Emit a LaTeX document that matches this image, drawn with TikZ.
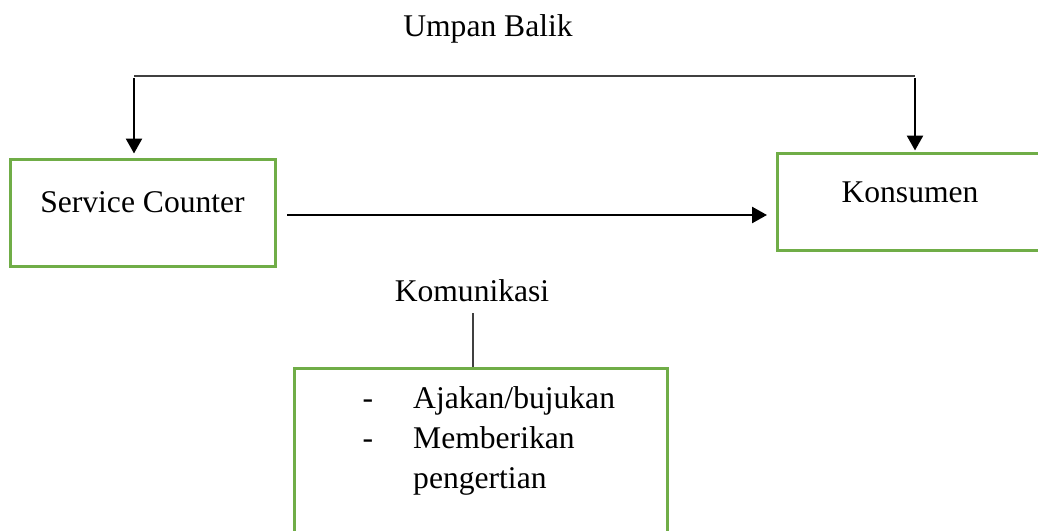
\documentclass[tikz,border=0pt]{standalone}
\usepackage{fontspec}
\setmainfont{Liberation Serif}
\usetikzlibrary{arrows.meta,calc}
\definecolor{boxgreen}{HTML}{70AD47}
\definecolor{fbgray}{HTML}{404040}
\begin{document}
\begin{tikzpicture}[x=1pt,y=-1pt,
  box/.style={draw=boxgreen,line width=3pt,rectangle,inner sep=0pt},
  txt/.style={font=\fontsize{31.6}{38}\selectfont,inner sep=0pt,anchor=base},
  fbline/.style={draw=fbgray,line width=1.5pt},
  arr/.style={draw=black,line width=2.6pt,-{Triangle[width=16pt,length=15pt]}}]
\useasboundingbox (0,0) rectangle (1038,530);
\clip (0,0) rectangle (1038,530);
\fill[white] (0,0) rectangle (1038,530);
% boxes
\node[box,minimum width=265pt,minimum height=107pt] (sc) at (142.5,212.5) {};
\node[box,minimum width=323pt,minimum height=97pt] (kon) at (938.5,201.5) {};
\node[box,minimum width=373pt,minimum height=232pt] (kom) at (480.5,484) {};
% texts
\node[txt] (tsc) at (142.5,212) {Service Counter};
\node[txt] (tkon) at (910,202) {Konsumen};
\node[txt] (tub) at (488,36) {Umpan Balik};
\node[txt] (tkom) at (472,301) {Komunikasi};
\node[txt] (d1) at (368,408) {-};
\node[txt] (d2) at (368,448) {-};
\node[txt,anchor=base west] (l1) at (413,408) {Ajakan/bujukan};
\node[txt,anchor=base west] (l2) at (413,448) {Memberikan};
\node[txt,anchor=base west] (l3) at (413,488) {pengertian};
% feedback
\coordinate (fl) at (134,76);
\coordinate (fr) at (915,76);
\draw[fbline] (fl) -- (fr);
\draw[arr] ($(fl)+(0,2)$) -- ($(fl |- sc.north)+(0,-4)$);
\draw[arr] ($(fr)+(0,2)$) -- ($(fr |- kon.north)+(0,-1)$);
% main arrow
\coordinate (m1) at (287,215);
\coordinate (m2) at (767,215);
\draw[arr] (m1) -- (m2);
% communication line
\coordinate (c1) at (473,313);
\draw[fbline] (c1) -- (c1 |- kom.north);
\end{tikzpicture}
\end{document}
